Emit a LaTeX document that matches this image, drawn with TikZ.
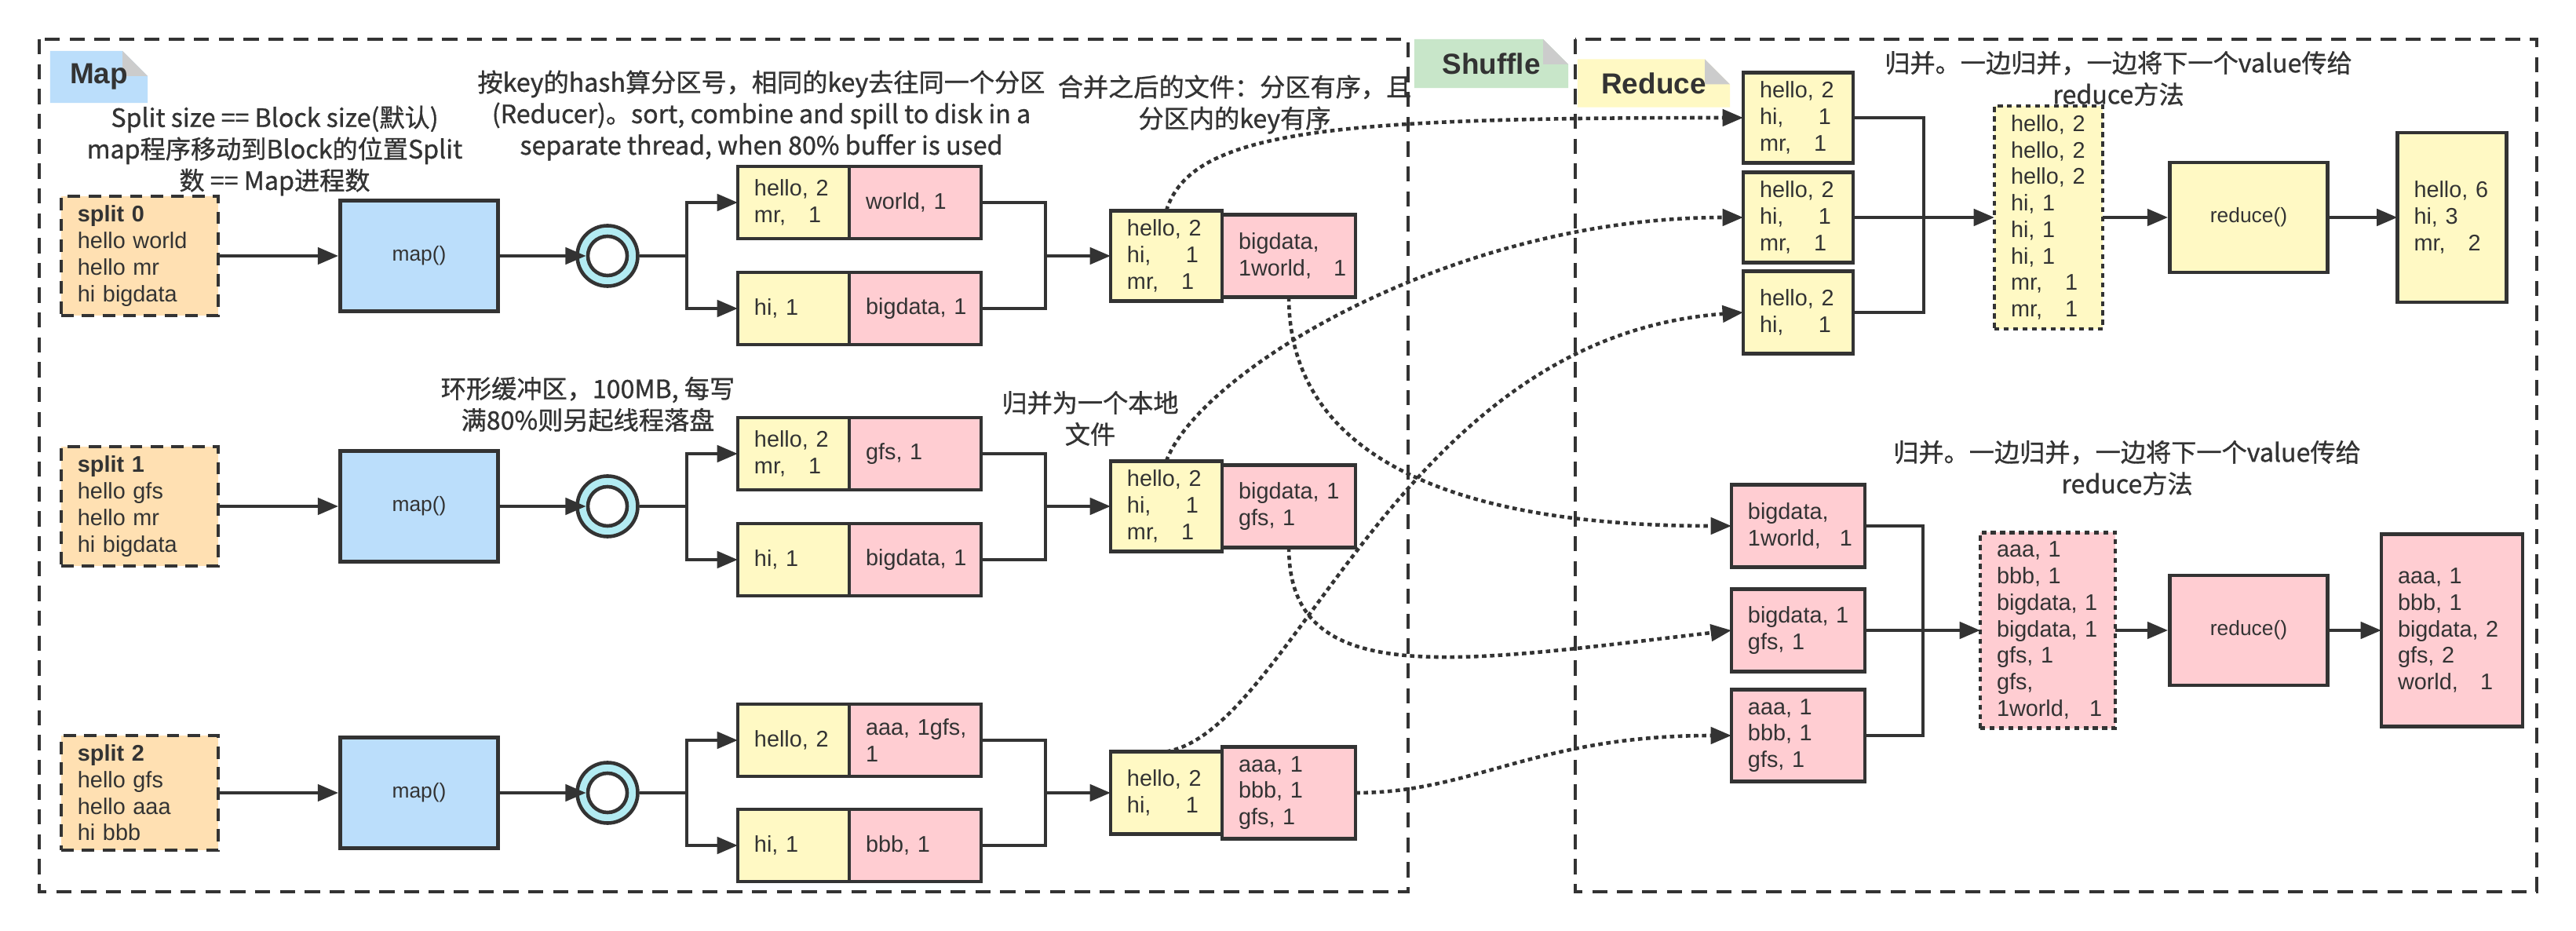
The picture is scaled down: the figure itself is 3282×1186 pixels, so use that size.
\documentclass[tikz,border=0pt]{standalone}
\usepackage{fontspec}
\setmainfont{Liberation Sans}
\newfontfamily\cjk[FakeBold=0.9]{Noto Sans CJK SC}
\usetikzlibrary{positioning, arrows.meta}

\definecolor{ink}{HTML}{333333}
\definecolor{keyyellow}{HTML}{FFF9C4}
\definecolor{keypink}{HTML}{FFCDD2}
\definecolor{splitorange}{HTML}{FFE0B2}
\definecolor{mapblue}{HTML}{BBDEFB}
\definecolor{ringcyan}{HTML}{B2EBF2}
\definecolor{shufflegreen}{HTML}{C8E6C9}
\definecolor{foldgray}{HTML}{CCCCCC}

\newcommand{\boxfont}{\fontsize{8.2}{9.6}\selectfont}
\newcommand{\remarkfont}{\cjk\fontsize{9.15}{11.4}\selectfont}
\newcommand{\tagfont}{\bfseries\fontsize{10.5}{12}\selectfont}
\newcommand{\kv}[3][2.6em]{\makebox[#1][l]{#2}#3}

\begin{document}
\begin{tikzpicture}[x=0.01cm, y=-0.01cm, line width=1.3pt, color=ink,
    >={Triangle[length=7.5pt, width=6pt]},
    stagebox/.style={line width=1.15pt, dash pattern=on 5.5pt off 3.5pt},
    notetag/.style={fill=white, inner sep=0pt, outer sep=0pt, font=\tagfont,
      path picture={
        \fill[#1] (path picture bounding box.south west) -- (path picture bounding box.north west)
          -- ([xshift=-0.32cm]path picture bounding box.north east)
          -- ([yshift=-0.32cm]path picture bounding box.north east)
          -- (path picture bounding box.south east) -- cycle;
        \fill[foldgray] ([xshift=-0.32cm]path picture bounding box.north east)
          |- ([yshift=-0.32cm]path picture bounding box.north east) -- cycle;}},
    cell/.style={draw, outer sep=0pt, inner xsep=0.05cm, align=left, font=\boxfont,
      execute at begin node={\leftskip=0.16cm}},
    splitbox/.style={cell, fill=splitorange, dash pattern=on 4.5pt off 3pt, text width=1.9cm, minimum height=1.41cm},
    procbox/.style={draw, fill=#1, minimum width=2.01cm, minimum height=1.41cm, font=\fontsize{7.5}{9}\selectfont},
    ycell/.style={cell, fill=keyyellow, text width=1.32cm, minimum height=0.92cm},
    pcell/.style={cell, fill=keypink, text width=1.58cm, minimum height=0.92cm},
    dotbox/.style={dash pattern=on 1.8pt off 1.6pt},
    ringbuf/.style={circle, draw, fill=ringcyan, minimum size=0.77cm, inner sep=0pt},
    ringhole/.style={circle, draw, fill=white, minimum size=0.5cm, inner sep=0pt},
    remark/.style={align=center, font=\remarkfont},
    shuffle/.style={->, dash pattern=on 1.6pt off 1.3pt}]

    \fill[white] (0,0) rectangle (3282,1186);
    \useasboundingbox (0,0) rectangle (3282,1186);

    % stages
    \draw[stagebox] (50,50) rectangle (1794,1136);
    \draw[stagebox] (2007,50) rectangle (3232,1136);
    \node[notetag=mapblue, minimum width=1.24cm, minimum height=0.66cm] (maptag) at (126,98) {Map};
    \node[notetag=shufflegreen, minimum width=1.96cm, minimum height=0.62cm] (shuffletag) at (1900,81) {Shuffle};
    \node[notetag=keyyellow, minimum width=1.94cm, minimum height=0.61cm] (reducetag) at (2107,106) {Reduce};

    % remarks
    \node[remark] (splitnote) at (350,192) {Split size == Block size(默认)\\map程序移动到Block的位置Split\\数 == Map进程数};
    \node[remark] (hashnote) at (970,147) {按key的hash算分区号，相同的key去往同一个分区\\(Reducer)。sort, combine and spill to disk in a\\separate thread, when 80\% buffer is used};
    \node[remark] (sortnote) at (1573,133) {合并之后的文件：分区有序，且\\分区内的key有序};
    \node[remark] (bufnote) at (749,515) {环形缓冲区，100MB, 每写\\满80\%则另起线程落盘};
    \node[remark] (localnote) at (1389,533) {归并为一个本地\\文件};
    \node[remark] (mergenote1) at (2699,100) {归并。一边归并，一边将下一个value传给\\reduce方法};
    \node[remark] (mergenote2) at (2710,596) {归并。一边归并，一边将下一个value传给\\reduce方法};

    % split 0
    \node[splitbox] (split0) at (178,326) {\textbf{split 0}\\hello world\\hello mr\\hi bigdata};
    \node[procbox=mapblue] (map0) at (534,326) {map()};
    \node[ringbuf] (ring0) at (774,326) {};
    \node[ringhole] (hole0) at (774,326) {};
    \coordinate (fork0) at (875,326);
    \node[ycell] (a0y) at (1011,258) {hello, 2\\\kv[2.4em]{mr,}{1}};
    \node[pcell, right=0pt of a0y] (a0p) {world, 1};
    \node[ycell] (b0y) at (1011,393) {hi, 1};
    \node[pcell, right=0pt of b0y] (b0p) {bigdata, 1};
    \coordinate (join0) at (1332,326);
    \node[ycell, minimum height=1.05cm] (m0y) at (1486,326) {hello, 2\\\kv{hi,}{1}\\\kv[2.4em]{mr,}{1}};
    \node[pcell, text width=1.6cm, minimum height=1.05cm, right=0pt of m0y] (m0p) {bigdata,\\\kv[4.2em]{1world,}{1}};

    % split 1
    \node[splitbox] (split1) at (178,645) {\textbf{split 1}\\hello gfs\\hello mr\\hi bigdata};
    \node[procbox=mapblue] (map1) at (534,645) {map()};
    \node[ringbuf] (ring1) at (774,645) {};
    \node[ringhole] (hole1) at (774,645) {};
    \coordinate (fork1) at (875,645);
    \node[ycell] (a1y) at (1011,578) {hello, 2\\\kv[2.4em]{mr,}{1}};
    \node[pcell, right=0pt of a1y] (a1p) {gfs, 1};
    \node[ycell] (b1y) at (1011,713) {hi, 1};
    \node[pcell, right=0pt of b1y] (b1p) {bigdata, 1};
    \coordinate (join1) at (1332,645);
    \node[ycell, minimum height=1.05cm] (m1y) at (1486,645) {hello, 2\\\kv{hi,}{1}\\\kv[2.4em]{mr,}{1}};
    \node[pcell, text width=1.6cm, minimum height=1.05cm, right=0pt of m1y] (m1p) {bigdata, 1\\gfs, 1};

    % split 2
    \node[splitbox] (split2) at (178,1010) {\textbf{split 2}\\hello gfs\\hello aaa\\hi bbb};
    \node[procbox=mapblue] (map2) at (534,1010) {map()};
    \node[ringbuf] (ring2) at (774,1010) {};
    \node[ringhole] (hole2) at (774,1010) {};
    \coordinate (fork2) at (875,1010);
    \node[ycell] (a2y) at (1011,943) {hello, 2};
    \node[pcell, right=0pt of a2y] (a2p) {aaa, 1gfs,\\1};
    \node[ycell] (b2y) at (1011,1077) {hi, 1};
    \node[pcell, right=0pt of b2y] (b2p) {bbb, 1};
    \coordinate (join2) at (1332,1010);
    \node[ycell, minimum height=1.05cm] (m2y) at (1486,1010) {hello, 2\\\kv{hi,}{1}};
    \node[pcell, text width=1.6cm, minimum height=1.05cm, right=0pt of m2y] (m2p) {aaa, 1\\bbb, 1\\gfs, 1};

    % map side links
    \draw[->] (split0) -- (map0);
    \draw[->] (map0) -- (hole0.west);
    \draw (ring0) -- (fork0);
    \draw[->] (fork0) |- (a0y);
    \draw[->] (fork0) |- (b0y);
    \draw (a0p) -| (join0);
    \draw (b0p) -| (join0);
    \draw[->] (join0) -- (m0y);

    \draw[->] (split1) -- (map1);
    \draw[->] (map1) -- (hole1.west);
    \draw (ring1) -- (fork1);
    \draw[->] (fork1) |- (a1y);
    \draw[->] (fork1) |- (b1y);
    \draw (a1p) -| (join1);
    \draw (b1p) -| (join1);
    \draw[->] (join1) -- (m1y);

    \draw[->] (split2) -- (map2);
    \draw[->] (map2) -- (hole2.west);
    \draw (ring2) -- (fork2);
    \draw[->] (fork2) |- (a2y);
    \draw[->] (fork2) |- (b2y);
    \draw (a2p) -| (join2);
    \draw (b2p) -| (join2);
    \draw[->] (join2) -- (m2y);

    % reduce, first partition
    \node[ycell, text width=1.3cm, minimum height=1.05cm] (r1) at (2291,150) {hello, 2\\\kv{hi,}{1}\\\kv[2.4em]{mr,}{1}};
    \node[ycell, text width=1.3cm, minimum height=1.05cm] (r2) at (2291,277) {hello, 2\\\kv{hi,}{1}\\\kv[2.4em]{mr,}{1}};
    \node[ycell, text width=1.3cm, minimum height=1.05cm] (r3) at (2291,398) {hello, 2\\\kv{hi,}{1}};
    \coordinate (jointop) at (2451,277);
    \node[ycell, dotbox, text width=1.28cm, minimum height=2.8cm] (mergetop) at (2610,277)
      {hello, 2\\hello, 2\\hello, 2\\hi, 1\\hi, 1\\hi, 1\\\kv[2.4em]{mr,}{1}\\\kv[2.4em]{mr,}{1}};
    \node[procbox=keyyellow, minimum height=1.40cm] (reduce1) at (2865,277) {reduce()};
    \node[ycell, text width=1.29cm, minimum height=2.16cm] (result1) at (3124,277) {hello, 6\\hi, 3\\\kv[2.4em]{mr,}{2}};

    % reduce, second partition
    \node[pcell, text width=1.6cm, minimum height=1.05cm] (p1) at (2291,670) {bigdata,\\\kv[4.05em]{1world,}{1}};
    \node[pcell, text width=1.6cm, minimum height=1.05cm] (p2) at (2291,803) {bigdata, 1\\gfs, 1};
    \node[pcell, text width=1.6cm, minimum height=1.05cm] (p3) at (2291,937) {aaa, 1\\bbb, 1\\gfs, 1};
    \coordinate (joinbot) at (2450,803);
    \node[pcell, dotbox, text width=1.62cm, minimum height=2.45cm] (mergebot) at (2609,803)
      {aaa, 1\\bbb, 1\\bigdata, 1\\bigdata, 1\\gfs, 1\\gfs,\\\kv[4.1em]{1world,}{1}};
    \node[procbox=keypink, minimum height=1.40cm] (reduce2) at (2865,803) {reduce()};
    \node[pcell, text width=1.7cm, minimum height=2.45cm] (result2) at (3124,803) {aaa, 1\\bbb, 1\\bigdata, 2\\gfs, 2\\\kv[3.65em]{world,}{1}};

    % reduce side links
    \draw (r1) -| (jointop);
    \draw (r3) -| (jointop);
    \draw[->] (r2) -- (mergetop);
    \draw[->] (mergetop) -- (reduce1);
    \draw[->] (reduce1) -- (result1);
    \draw (p1) -| (joinbot);
    \draw (p3) -| (joinbot);
    \draw[->] (p2) -- (mergebot);
    \draw[->] (mergebot) -- (reduce2);
    \draw[->] (reduce2) -- (result2);

    % shuffle
    \draw[shuffle] (m0y.north) .. controls +(32,-103) and +(-521,0) .. (r1.west);
    \draw[shuffle] (m0p.south) .. controls +(0,190) and +(-380,0) .. (p1.west);
    \draw[shuffle] (m1y.north) .. controls +(42,-113) and +(-371,0) .. (r2.west);
    \draw[shuffle] (m1p.south) .. controls +(0,182) and +(-356,42) .. (p2.west);
    \draw[shuffle] (m2y.north) .. controls +(163,-28) and +(-441,32) .. (r3.west);
    \draw[shuffle] (m2p.east) .. controls +(150,0) and +(-250,0) .. (p3.west);
\end{tikzpicture}
\end{document}
